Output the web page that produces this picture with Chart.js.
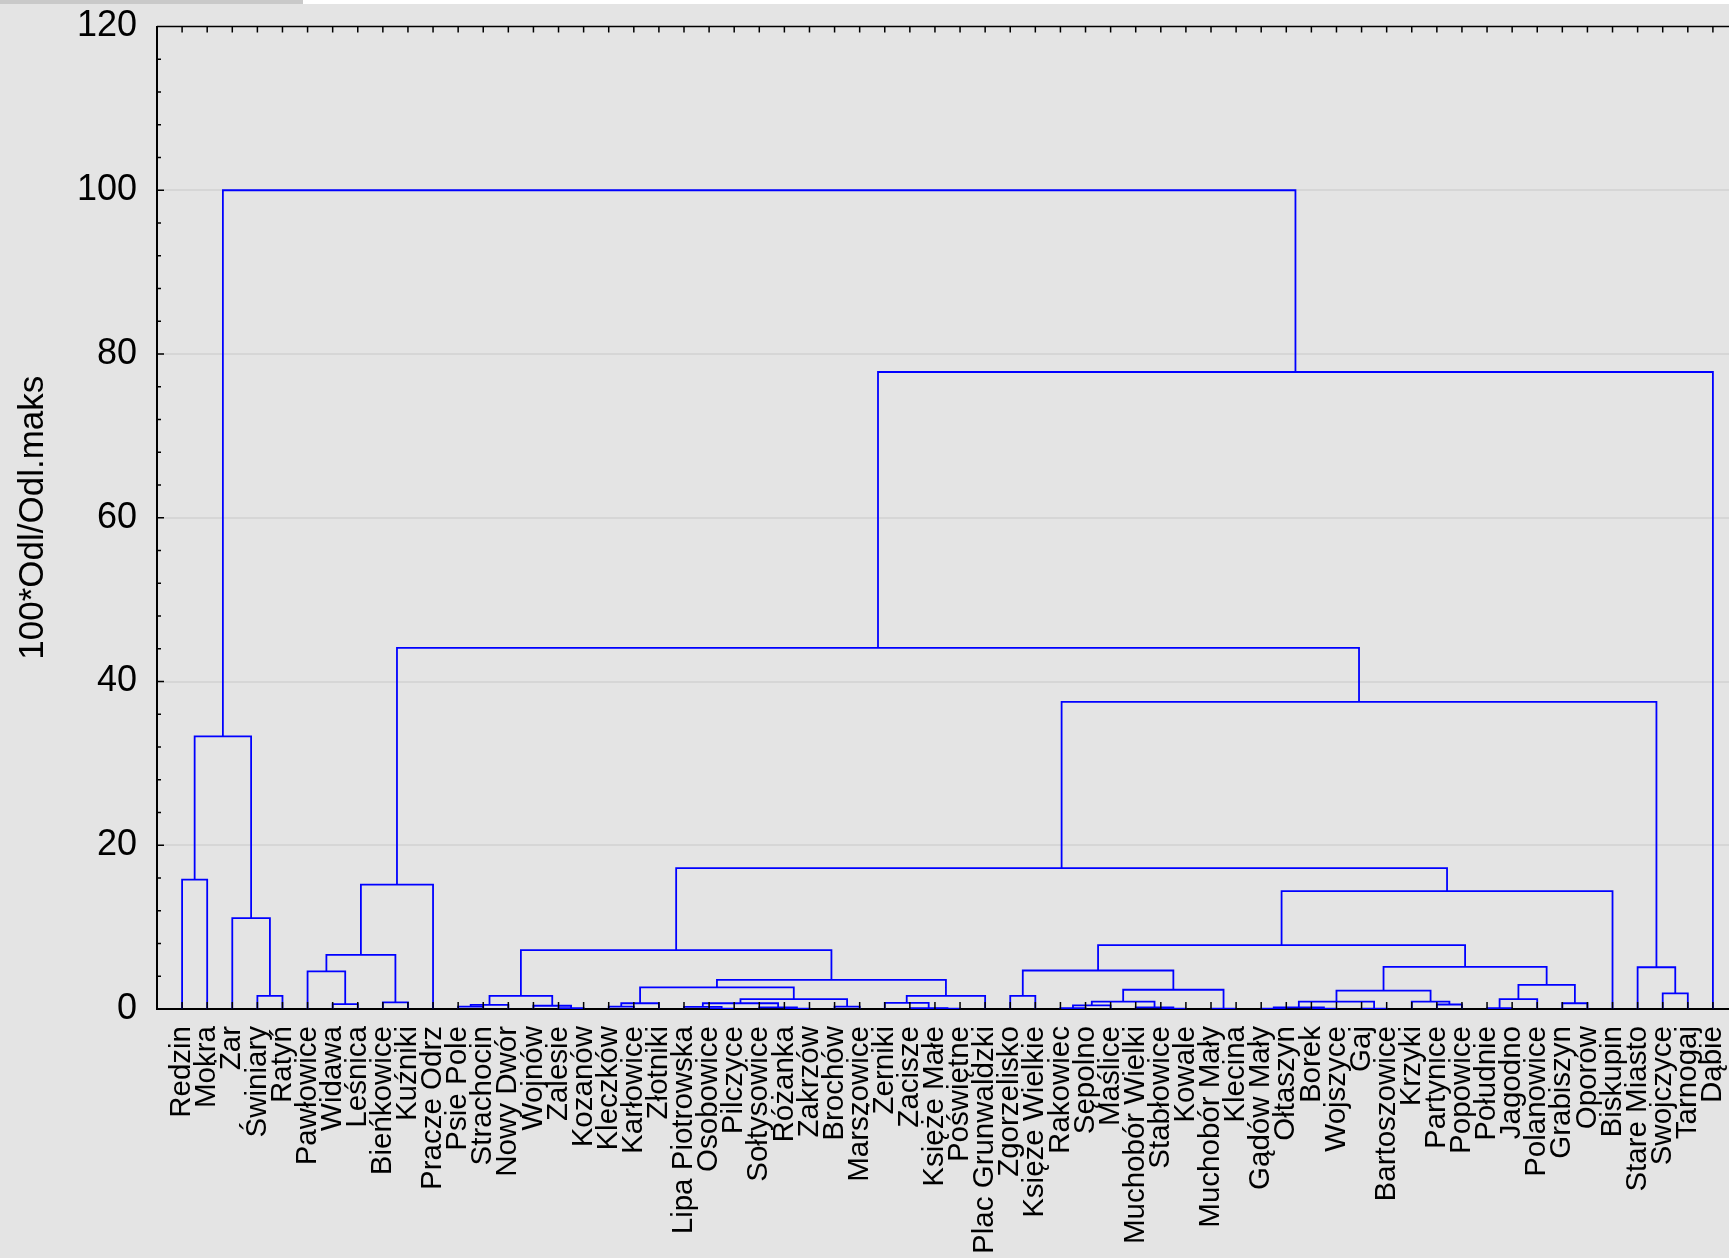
<!DOCTYPE html>
<html>
<head>
<meta charset="utf-8">
<script src="https://cdn.jsdelivr.net/npm/chart.js@4.4.1/dist/chart.umd.min.js"></script>
<style>
  html, body { margin: 0; padding: 0; overflow: hidden; background: #e4e4e4; }
  #wrap { position: absolute; left: 0; top: 0; width: 1760px; height: 1258px; }
</style>
</head>
<body>
<div id="wrap"><canvas id="dendro" width="1760" height="1258"></canvas></div>
<script>
// leaf order along the x axis
const leaves = ['Redzin','Mokra','Żar','Świniary','Ratyń','Pawłowice','Widawa','Leśnica',
  'Bieńkowice','Kuźniki','Pracze Odrz','Psie Pole','Strachocin','Nowy Dwór','Wojnów','Zalesie',
  'Kozanów','Kleczków','Karłowice','Złotniki','Lipa Piotrowska','Osobowice','Pilczyce',
  'Sołtysowice','Różanka','Zakrzów','Brochów','Marszowice','Żerniki','Zacisze','Księże Małe',
  'Poświętne','Plac Grunwaldzki','Zgorzelisko','Księże Wielkie','Rakowiec','Sępolno','Maślice',
  'Muchobór Wielki','Stabłowice','Kowale','Muchobór Mały','Klecina','Gądów Mały','Ołtaszyn',
  'Borek','Wojszyce','Gaj','Bartoszowice','Krzyki','Partynice','Popowice','Południe','Jagodno',
  'Polanowice','Grabiszyn','Oporów','Biskupin','Stare Miasto','Swojczyce','Tarnogaj','Dąbie'];

// linkage rows [a, b, height]; ids >= 62 point to earlier rows (62 = first row)
const merges = [
  [0, 1, 15.8], [3, 4, 1.6], [2, 63, 11.1], [62, 64, 33.3],
  [6, 7, 0.6], [5, 66, 4.6], [8, 9, 0.8], [67, 68, 6.6], [69, 10, 15.2],
  [11, 12, 0.3], [71, 13, 0.5], [15, 16, 0.1], [14, 73, 0.4], [72, 74, 1.6],
  [17, 18, 0.3], [76, 19, 0.7], [21, 22, 0.05], [20, 78, 0.25], [24, 25, 0.05],
  [23, 80, 0.2], [79, 81, 0.7], [26, 27, 0.3], [82, 83, 1.2], [77, 84, 2.65],
  [30, 31, 0.05], [29, 86, 0.1], [28, 87, 0.75], [88, 32, 1.6], [85, 89, 3.55],
  [75, 90, 7.2],
  [33, 34, 1.6], [35, 36, 0.1], [93, 37, 0.45], [39, 40, 0.05], [38, 95, 0.2],
  [94, 96, 0.9], [41, 42, 0.05], [97, 98, 2.35], [92, 99, 4.7],
  [43, 44, 0.05], [45, 46, 0.03], [101, 102, 0.2], [47, 48, 0.05], [103, 104, 0.9],
  [50, 51, 0.55], [49, 106, 0.9], [105, 107, 2.25], [52, 53, 0.1], [109, 54, 1.2],
  [55, 56, 0.7], [110, 111, 2.95], [108, 112, 5.15], [100, 113, 7.8], [114, 57, 14.4],
  [91, 115, 17.2], [59, 60, 1.9], [58, 117, 5.1], [116, 118, 37.5], [70, 119, 44.1],
  [120, 61, 77.8], [65, 121, 100]
];

const yTicks = [0, 20, 40, 60, 80, 100, 120];

const FONT = 'Liberation Sans, Arial, sans-serif';

// each link is drawn as a U: child a up, across, down to child b
const nodeX = leaves.map((_, i) => i);
const nodeH = leaves.map(() => 0);
const datasets = merges.map(([a, b, h]) => {
  nodeX.push((nodeX[a] + nodeX[b]) / 2);
  nodeH.push(h);
  return {
    data: [
      {x: nodeX[a], y: nodeH[a]}, {x: nodeX[a], y: h},
      {x: nodeX[b], y: h}, {x: nodeX[b], y: nodeH[b]}
    ],
    showLine: true,
    borderColor: '#0000ff',
    borderWidth: 1.8,
    pointRadius: 0,
    fill: false,
    tension: 0
  };
});

// background strip, top frame and the inward tick marks
const frame = {
  id: 'frame',
  beforeDraw(chart) {
    const c = chart.ctx;
    c.save();
    c.fillStyle = '#e4e4e4';
    c.fillRect(0, 0, chart.width, chart.height);
    c.fillStyle = '#ffffff';
    c.fillRect(0, 0, chart.width, 4);
    c.fillStyle = '#c9c9c9';
    c.fillRect(0, 0, 303, 4);
    c.restore();
  },
  afterDatasetsDraw(chart) {
    const {ctx: c, chartArea: a, scales: {x, y}} = chart;
    c.save();
    c.strokeStyle = '#000';
    c.lineWidth = 1.5;
    c.beginPath();
    c.moveTo(a.left, a.top);
    c.lineTo(a.right, a.top);
    leaves.forEach((_, i) => {
      const px = x.getPixelForValue(i);
      c.moveTo(px, a.top); c.lineTo(px, a.top + 6);
      c.moveTo(px, a.bottom); c.lineTo(px, a.bottom - 7);
    });
    for (let v = 0; v <= 120; v += 4) {
      const py = y.getPixelForValue(v);
      c.moveTo(a.left, py);
      c.lineTo(a.left + (v % 20 ? 4 : 7), py);
    }
    c.stroke();
    c.restore();
  }
};

new Chart(document.getElementById('dendro'), {
  type: 'scatter',
  data: {datasets},
  options: {
    responsive: false,
    animation: false,
    events: [],
    layout: {padding: {top: 26.5, right: 22, left: 0, bottom: 0}},
    plugins: {legend: {display: false}, tooltip: {enabled: false}},
    scales: {
      x: {
        type: 'linear',
        min: -1,
        max: 62,
        afterFit: s => { s.height = 249; s.paddingLeft = 0; s.paddingRight = 0; },
        grid: {color: 'rgba(0,0,0,0)', drawTicks: false},
        border: {display: true, color: '#000', width: 2},
        ticks: {
          stepSize: 1,
          autoSkip: false,
          minRotation: 90,
          maxRotation: 90,
          padding: 17,
          color: '#000',
          font: {family: FONT, size: 29.5},
          callback: v => leaves[Math.round(v)] ?? ''
        }
      },
      y: {
        min: 0,
        max: 120,
        afterFit: s => { s.width = 157; s.paddingTop = 0; s.paddingBottom = 0; },
        afterBuildTicks: s => { s.ticks = yTicks.map(v => ({value: v})); },
        grid: {
          drawTicks: false,
          lineWidth: 2,
          color: c => (c.tick && c.tick.value > 0 && c.tick.value < 120) ? '#d6d6d6' : 'rgba(0,0,0,0)'
        },
        border: {display: true, color: '#000', width: 2},
        ticks: {
          padding: 20,
          color: '#000',
          font: {family: FONT, size: 36}
        },
        title: {
          display: true,
          text: '100*Odl/Odl.maks',
          color: '#000',
          font: {family: FONT, size: 35},
          padding: {top: 12, bottom: 0}
        }
      }
    }
  },
  plugins: [frame]
});
</script>
</body>
</html>
